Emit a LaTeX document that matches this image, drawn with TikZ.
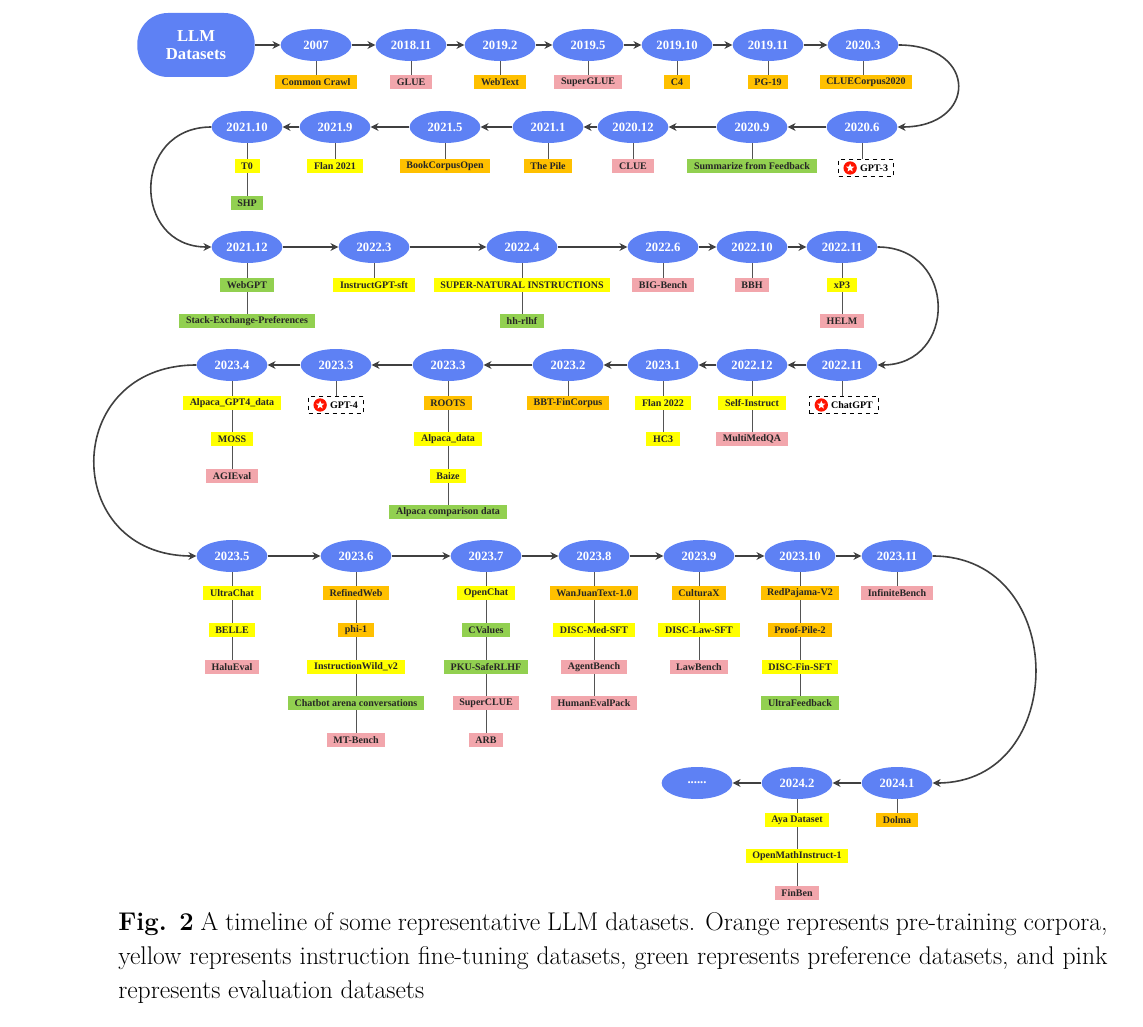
\documentclass[tikz,border=0pt]{standalone}
\usepackage{fontspec}
\newfontfamily\timesb{Liberation Serif}[Scale=1.0]
\usetikzlibrary{shapes.geometric,arrows.meta}
\definecolor{yrblue}{RGB}{94,129,244}
\definecolor{corg}{RGB}{255,192,0}
\definecolor{cyel}{RGB}{255,255,0}
\definecolor{cgrn}{RGB}{146,208,80}
\definecolor{cpnk}{RGB}{242,166,172}
\definecolor{link}{RGB}{64,64,64}
\tikzset{
  yr/.style={ellipse,fill=yrblue,text=white,font=\timesb\bfseries\fontsize{9.5}{10}\selectfont,minimum width=53pt,minimum height=24pt,inner sep=0pt},
  lab/.style={font=\timesb\bfseries\fontsize{7.5}{8}\selectfont,inner xsep=5pt,inner ysep=0pt,minimum height=10.5pt,text=black!85},
  org/.style={lab,fill=corg}, yel/.style={lab,fill=cyel},
  grn/.style={lab,fill=cgrn}, pnk/.style={lab,fill=cpnk},
  mdl/.style={lab,draw,dashed,thick,inner xsep=4pt,minimum height=13pt,text=black},
  nxt/.style={link,very thick,-{Stealth[length=6pt,width=6pt]}},
  stem/.style={link!90,thin},
}
% one red badge with a white star, placed left of a model box
\newcommand{\badge}[1]{%
  \node[circle,fill=red!85!orange,minimum size=10pt,inner sep=0pt] at ([xshift=9pt]#1.west) {};
  \node[star,star points=5,star point ratio=2.3,fill=white,minimum size=6.5pt,inner sep=0pt] at ([xshift=9pt]#1.west) {};}
\begin{document}
\begin{tikzpicture}[x=0.75pt,y=-0.75pt]
\useasboundingbox (0,0) rectangle (1143,1027);

% row 1
\node[fill=yrblue,rounded corners=23pt,minimum width=88pt,minimum height=48pt,text=white,align=center,
  font=\timesb\bfseries\fontsize{12.5}{14}\selectfont] (llm) at (196,45) {LLM\\Datasets};
\node[yr] (y07) at (316,45) {2007};
\node[yr] (y1811) at (411,45) {2018.11};
\node[yr] (y192) at (500,45) {2019.2};
\node[yr] (y195) at (588,45) {2019.5};
\node[yr] (y1910) at (677,45) {2019.10};
\node[yr] (y1911) at (768,45) {2019.11};
\node[yr] (y203) at (863,45) {2020.3};
\draw[nxt] (llm) -- (y07);
\draw[nxt] (y07) -- (y1811);
\draw[nxt] (y1811) -- (y192);
\draw[nxt] (y192) -- (y195);
\draw[nxt] (y195) -- (y1910);
\draw[nxt] (y1910) -- (y1911);
\draw[nxt] (y1911) -- (y203);
\node[org] (cc) at (316,82) {Common Crawl};
\node[pnk] (glue) at (411,82) {GLUE};
\node[org] (wt) at (500,82) {WebText};
\node[pnk] (sglue) at (588,82) {SuperGLUE};
\node[org] (c4) at (677,82) {C4};
\node[org] (pg) at (768,82) {PG-19};
\node[org] (clc) at (866,82) {CLUECorpus2020};
\draw[stem] (y07) -- (cc);
\draw[stem] (y1811) -- (glue);
\draw[stem] (y192) -- (wt);
\draw[stem] (y195) -- (sglue);
\draw[stem] (y1910) -- (c4);
\draw[stem] (y1911) -- (pg);
\draw[stem] (y203) -- (y203 |- clc.north);

% row 2
\node[yr] (y206) at (862,127) {2020.6};
\node[yr] (y209) at (752,127) {2020.9};
\node[yr] (y2012) at (633,127) {2020.12};
\node[yr] (y211) at (548,127) {2021.1};
\node[yr] (y215) at (445,127) {2021.5};
\node[yr] (y219) at (335,127) {2021.9};
\node[yr] (y2110) at (247,127) {2021.10};
\draw[nxt] (y203.east) .. controls +(80,0) and +(80,0) .. (y206.east);
\draw[nxt] (y206) -- (y209);
\draw[nxt] (y209) -- (y2012);
\draw[nxt] (y2012) -- (y211);
\draw[nxt] (y211) -- (y215);
\draw[nxt] (y215) -- (y219);
\draw[nxt] (y219) -- (y2110);
\node[mdl] (gpt3) at (866,168) {\hspace{12pt}GPT-3};
\badge{gpt3}
\node[grn] (sff) at (752,166) {Summarize from Feedback};
\node[pnk] (clue) at (633,166) {CLUE};
\node[org] (pile) at (548,166) {The Pile};
\node[org] (bco) at (445,166) {BookCorpusOpen};
\node[yel] (fl21) at (335,166) {Flan 2021};
\node[yel] (t0) at (247,166) {T0};
\node[grn] (shp) at (247,203) {SHP};
\draw[stem] (y206) -- (y206 |- gpt3.north);
\draw[stem] (y209) -- (sff);
\draw[stem] (y2012) -- (clue);
\draw[stem] (y211) -- (pile);
\draw[stem] (y215) -- (bco);
\draw[stem] (y219) -- (fl21);
\draw[stem] (y2110) -- (t0) -- (shp);

% row 3
\node[yr] (y2112) at (247,247) {2021.12};
\node[yr] (y223) at (374,247) {2022.3};
\node[yr] (y224) at (522,247) {2022.4};
\node[yr] (y226) at (663,247) {2022.6};
\node[yr] (y2210) at (752,247) {2022.10};
\node[yr] (y2211) at (842,247) {2022.11};
\draw[nxt] (y2110.west) .. controls +(-80,0) and +(-80,0) .. (y2112.west);
\draw[nxt] (y2112) -- (y223);
\draw[nxt] (y223) -- (y224);
\draw[nxt] (y224) -- (y226);
\draw[nxt] (y226) -- (y2210);
\draw[nxt] (y2210) -- (y2211);
\node[grn] (wgpt) at (247,285) {WebGPT};
\node[grn] (sep) at (247,321) {Stack-Exchange-Preferences};
\node[yel] (igs) at (374,285) {InstructGPT-sft};
\node[yel] (sni) at (522,285) {SUPER-NATURAL INSTRUCTIONS};
\node[grn] (hh) at (522,321) {hh-rlhf};
\node[pnk] (bigb) at (663,285) {BIG-Bench};
\node[pnk] (bbh) at (752,285) {BBH};
\node[yel] (xp3) at (842,285) {xP3};
\node[pnk] (helm) at (842,321) {HELM};
\draw[stem] (y2112) -- (wgpt) -- (sep);
\draw[stem] (y223) -- (igs);
\draw[stem] (y224) -- (sni) -- (hh);
\draw[stem] (y226) -- (bigb);
\draw[stem] (y2210) -- (bbh);
\draw[stem] (y2211) -- (xp3) -- (helm);

% row 4
\node[yr] (z2211) at (842,365) {2022.11};
\node[yr] (y2212) at (752,365) {2022.12};
\node[yr] (y231) at (663,365) {2023.1};
\node[yr] (y232) at (568,365) {2023.2};
\node[yr] (y233a) at (448,365) {2023.3};
\node[yr] (y233b) at (336,365) {2023.3};
\node[yr] (y234) at (232,365) {2023.4};
\draw[nxt] (y2211.east) .. controls +(80,0) and +(80,0) .. (z2211.east);
\draw[nxt] (z2211) -- (y2212);
\draw[nxt] (y2212) -- (y231);
\draw[nxt] (y231) -- (y232);
\draw[nxt] (y232) -- (y233a);
\draw[nxt] (y233a) -- (y233b);
\draw[nxt] (y233b) -- (y234);
\node[mdl] (cgpt) at (844,405) {\hspace{12pt}ChatGPT};
\badge{cgpt}
\node[yel] (sins) at (752,403) {Self-Instruct};
\node[pnk] (mmqa) at (752,439) {MultiMedQA};
\node[yel] (fl22) at (663,403) {Flan 2022};
\node[yel] (hc3) at (663,439) {HC3};
\node[org] (bbt) at (568,403) {BBT-FinCorpus};
\node[org] (roots) at (448,403) {ROOTS};
\node[yel] (alp) at (448,439) {Alpaca\_data};
\node[yel] (baize) at (448,476) {Baize};
\node[grn] (acd) at (448,512) {Alpaca comparison data};
\node[mdl] (gpt4) at (336,405) {\hspace{12pt}GPT-4};
\badge{gpt4}
\node[yel] (ag4) at (232,403) {Alpaca\_GPT4\_data};
\node[yel] (moss) at (232,439) {MOSS};
\node[pnk] (agi) at (232,476) {AGIEval};
\draw[stem] (z2211) -- (z2211 |- cgpt.north);
\draw[stem] (y2212) -- (sins) -- (mmqa);
\draw[stem] (y231) -- (fl22) -- (hc3);
\draw[stem] (y232) -- (bbt);
\draw[stem] (y233a) -- (roots) -- (alp) -- (baize) -- (acd);
\draw[stem] (y233b) -- (gpt4);
\draw[stem] (y234) -- (ag4) -- (moss) -- (agi);

% row 5
\node[yr] (y235) at (232,556) {2023.5};
\node[yr] (y236) at (356,556) {2023.6};
\node[yr] (y237) at (486,556) {2023.7};
\node[yr] (y238) at (594,556) {2023.8};
\node[yr] (y239) at (699,556) {2023.9};
\node[yr] (y2310) at (800,556) {2023.10};
\node[yr] (y2311) at (897,556) {2023.11};
\draw[nxt] (y234.west) .. controls +(-136,0) and +(-136,0) .. (y235.west);
\draw[nxt] (y235) -- (y236);
\draw[nxt] (y236) -- (y237);
\draw[nxt] (y237) -- (y238);
\draw[nxt] (y238) -- (y239);
\draw[nxt] (y239) -- (y2310);
\draw[nxt] (y2310) -- (y2311);
\node[yel] (uc) at (232,593) {UltraChat};
\node[yel] (belle) at (232,630) {BELLE};
\node[pnk] (halu) at (232,667) {HaluEval};
\node[org] (rw) at (356,593) {RefinedWeb};
\node[org] (phi) at (356,630) {phi-1};
\node[yel] (iw) at (356,667) {InstructionWild\_v2};
\node[grn] (cac) at (356,703) {Chatbot arena conversations};
\node[pnk] (mtb) at (356,740) {MT-Bench};
\node[yel] (oc) at (486,593) {OpenChat};
\node[grn] (cv) at (486,630) {CValues};
\node[grn] (pku) at (486,667) {PKU-SafeRLHF};
\node[pnk] (sclue) at (486,703) {SuperCLUE};
\node[pnk] (arb) at (486,740) {ARB};
\node[org] (wj) at (594,593) {WanJuanText-1.0};
\node[yel] (dmed) at (594,630) {DISC-Med-SFT};
\node[pnk] (agb) at (594,667) {AgentBench};
\node[pnk] (hep) at (594,703) {HumanEvalPack};
\node[org] (cx) at (699,593) {CulturaX};
\node[yel] (dlaw) at (699,630) {DISC-Law-SFT};
\node[pnk] (lawb) at (699,667) {LawBench};
\node[org] (rp2) at (800,593) {RedPajama-V2};
\node[org] (pp2) at (800,630) {Proof-Pile-2};
\node[yel] (dfin) at (800,667) {DISC-Fin-SFT};
\node[grn] (uf) at (800,703) {UltraFeedback};
\node[pnk] (infb) at (897,593) {InfiniteBench};
\draw[stem] (y235) -- (uc) -- (belle) -- (halu);
\draw[stem] (y236) -- (rw) -- (phi) -- (iw) -- (cac) -- (mtb);
\draw[stem] (y237) -- (oc) -- (cv) -- (pku) -- (sclue) -- (arb);
\draw[stem] (y238) -- (wj) -- (dmed) -- (agb) -- (hep);
\draw[stem] (y239) -- (cx) -- (dlaw) -- (lawb);
\draw[stem] (y2310) -- (rp2) -- (pp2) -- (dfin) -- (uf);
\draw[stem] (y2311) -- (infb);

% row 6
\node[yr] (y241) at (897,783) {2024.1};
\node[yr] (y242) at (797,783) {2024.2};
\node[yr] (more) at (697,783) {......};
\draw[nxt] (y2311.east) .. controls +(137,0) and +(137,0) .. (y241.east);
\draw[nxt] (y241) -- (y242);
\draw[nxt] (y242) -- (more);
\node[org] (dolma) at (897,820) {Dolma};
\node[yel] (aya) at (797,820) {Aya Dataset};
\node[yel] (omi) at (797,856) {OpenMathInstruct-1};
\node[pnk] (finb) at (797,893) {FinBen};
\draw[stem] (y241) -- (dolma);
\draw[stem] (y242) -- (aya) -- (omi) -- (finb);

% caption
\node[anchor=north west,text width=742pt,align=justify,inner sep=0pt,
  font=\fontsize{19.2}{25.5}\selectfont] (cap) at (118,912)
  {\hyphenpenalty=10000\exhyphenpenalty=50\textbf{Fig. 2} A timeline of some representative LLM datasets. Orange represents pre-training corpora, yellow represents instruction fine-tuning datasets, green represents preference datasets, and pink represents evaluation datasets};
\end{tikzpicture}
\end{document}
